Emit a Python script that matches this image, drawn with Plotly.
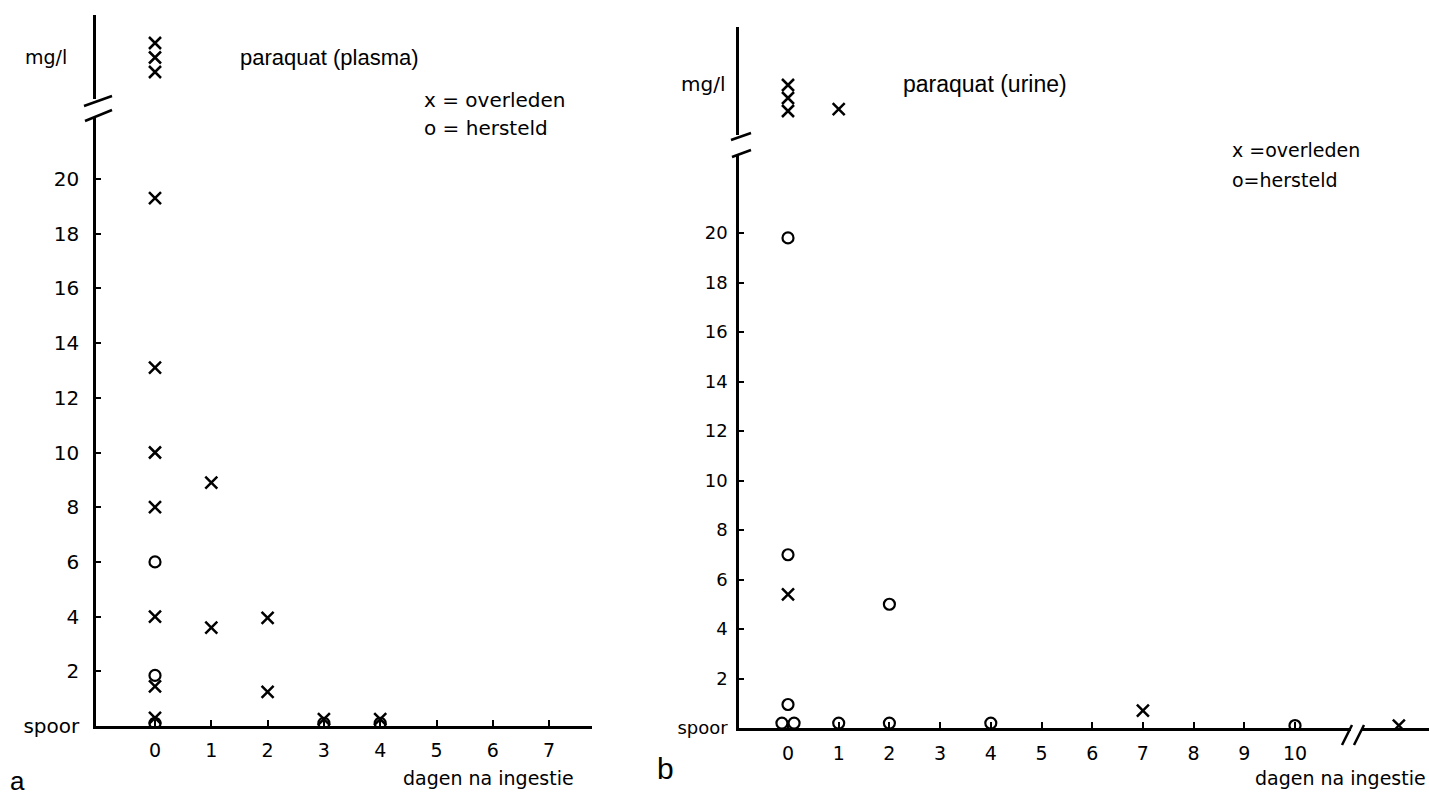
import plotly.graph_objects as go

# ---------------- data ----------------
# Panel a: paraquat (plasma), mg/l vs days after ingestion
a_dead_day = [0, 0, 0, 0, 0, 0, 0, 1, 1, 2, 2, 3, 4]
a_dead_val = [19.3, 13.1, 10.0, 8.0, 4.0, 1.45, 0.3, 8.9, 3.6, 3.95, 1.25, 0.25, 0.25]
a_rec_day = [0, 0, 0, 3, 4]
a_rec_val = [6.0, 1.85, 0.1, 0.1, 0.1]
# off-scale (above axis break) deaths, stacked position order
a_off_day = [0, 0, 0]
a_off_pos = [1, 2, 3]

# Panel b: paraquat (urine)
b_dead_day = [0, 7]
b_dead_val = [5.4, 0.7]
b_rec_day = [0, 0, 0, -0.12, 0.12, 1, 2, 2, 4, 10]
b_rec_val = [19.8, 7.0, 0.95, 0.2, 0.2, 0.2, 5.0, 0.2, 0.2, 0.1]
b_off_day = [0, 0, 0, 1]
b_off_pos = [1, 2, 3, 1.15]
# beyond x-axis break (late day), trace level
b_late_pos = [0.55]
b_late_val = [0.1]

y_ticks = [0, 2, 4, 6, 8, 10, 12, 14, 16, 18, 20]
y_ticktext = ["spoor"] + [str(v) for v in y_ticks[1:]]
a_x_ticks = [0, 1, 2, 3, 4, 5, 6, 7]
b_x_ticks = [0, 1, 2, 3, 4, 5, 6, 7, 8, 9, 10]

W, H = 1429, 796
def px(x):
    return x / W
def py(y):
    return 1 - y / H

FONT = "DejaVu Sans"
X_MARK = dict(symbol="x-thin-open", size=12, color="black", line=dict(width=2.5, color="black"))
O_MARK = dict(symbol="circle-open", size=11, color="black", line=dict(width=2.2, color="black"))

fig = go.Figure()
# panel a
fig.add_trace(go.Scatter(x=a_dead_day, y=a_dead_val, mode="markers", marker=X_MARK, xaxis="x", yaxis="y", showlegend=False))
fig.add_trace(go.Scatter(x=a_rec_day, y=a_rec_val, mode="markers", marker=O_MARK, xaxis="x", yaxis="y", showlegend=False))
fig.add_trace(go.Scatter(x=a_off_day, y=a_off_pos, mode="markers", marker=X_MARK, xaxis="x", yaxis="y2", showlegend=False))
# panel b
fig.add_trace(go.Scatter(x=b_dead_day, y=b_dead_val, mode="markers", marker=X_MARK, xaxis="x2", yaxis="y3", showlegend=False))
fig.add_trace(go.Scatter(x=b_rec_day, y=b_rec_val, mode="markers", marker=O_MARK, xaxis="x2", yaxis="y3", showlegend=False))
fig.add_trace(go.Scatter(x=b_off_day, y=b_off_pos, mode="markers", marker=X_MARK, xaxis="x2", yaxis="y4", showlegend=False))
fig.add_trace(go.Scatter(x=b_late_pos, y=b_late_val, mode="markers", marker=X_MARK, xaxis="x3", yaxis="y3", showlegend=False))

axline = dict(showline=True, linecolor="black", linewidth=2.5, showgrid=False, zeroline=False, automargin=False)

a_day_px0, a_day_px = 155, 56.3
b_day_px0, b_day_px = 788, 50.7

fig.update_layout(
    width=W, height=H, margin=dict(l=0, r=0, t=0, b=0),
    paper_bgcolor="white", plot_bgcolor="rgba(0,0,0,0)",
    xaxis=dict(**axline, domain=[px(96), px(592)], anchor="y",
               range=[(96 - a_day_px0) / a_day_px, (592 - a_day_px0) / a_day_px],
               tickmode="array", tickvals=a_x_ticks, ticks="inside", ticklen=6, tickwidth=2,
               tickcolor="black", tickfont=dict(family=FONT, size=19, color="black"), ticklabelstandoff=5),
    yaxis=dict(**axline, domain=[py(726), py(117)], anchor="x",
               range=[0, (726 - 117) / 27.35],
               tickmode="array", tickvals=y_ticks, ticktext=y_ticktext, ticks="inside", ticklen=5,
               tickwidth=2, tickcolor="black", tickfont=dict(family=FONT, size=20, color="black"),
               ticklabelstandoff=10),
    yaxis2=dict(**axline, domain=[py(99), py(15)], anchor="x",
                range=[1 - (99 - 72) / 14.5, 3 + (43 - 15) / 14.5], showticklabels=False, ticks=""),
    xaxis2=dict(**axline, domain=[px(739), px(1351)], anchor="y3",
                range=[(739 - b_day_px0) / b_day_px, (1351 - b_day_px0) / b_day_px],
                tickmode="array", tickvals=b_x_ticks, ticks="inside", ticklen=6, tickwidth=2,
                tickcolor="black", tickfont=dict(family=FONT, size=19, color="black"), ticklabelstandoff=6),
    yaxis3=dict(**axline, domain=[py(728), py(155)], anchor="x2",
                range=[0, (728 - 155) / 24.75],
                tickmode="array", tickvals=y_ticks, ticktext=y_ticktext, ticks="inside", ticklen=5,
                tickwidth=2, tickcolor="black", tickfont=dict(family=FONT, size=18, color="black"),
                ticklabelstandoff=5),
    yaxis4=dict(**axline, domain=[py(135), py(27)], anchor="x2",
                range=[1 - (135 - 111) / 13.0, 3 + (85 - 27) / 13.0], showticklabels=False, ticks=""),
    xaxis3=dict(**axline, domain=[px(1362), px(1429)], anchor="y3", range=[0, 1],
                showticklabels=False, ticks=""),
)

# axis break slashes
def seg(x0, y0, x1, y1, w=2.5):
    fig.add_shape(type="line", xref="paper", yref="paper", x0=px(x0), y0=py(y0), x1=px(x1), y1=py(y1),
                  line=dict(color="black", width=w))

seg(84, 106, 112, 96)
seg(85, 121, 112, 110)
seg(731, 140, 751, 133)
seg(732, 157, 751, 150)
seg(1342, 745, 1352, 725)
seg(1354, 745, 1364, 725)

def txt(x, y, s, size=17, family="Liberation Sans", xanchor="left"):
    fig.add_annotation(x=px(x), y=py(y), xref="paper", yref="paper", text=s, showarrow=False,
                       xanchor=xanchor, yanchor="middle", font=dict(family=family, size=size, color="black"))

# panel a texts
txt(23, 57, "mg/l", size=19, family=FONT)
txt(238, 57, "paraquat (plasma)", size=22)
txt(422, 100, "x = overleden", size=20, family=FONT)
txt(422, 128, "o = hersteld", size=20, family=FONT)
txt(576, 778, "dagen na ingestie", size=19, family=FONT, xanchor="right")
txt(8, 781, "a", size=26)

# panel b texts
txt(679, 84, "mg/l", size=20, family=FONT)
txt(901, 84, "paraquat (urine)", size=23)
txt(1230, 150, "x =overleden", size=19, family=FONT)
txt(1230, 180, "o=hersteld", size=19, family=FONT)
txt(1428, 778, "dagen na ingestie", size=19, family=FONT, xanchor="right")
txt(655, 768, "b", size=30)

fig.write_html("out.html", config={"displayModeBar": False},
               post_script="document.body.style.margin='0';")
